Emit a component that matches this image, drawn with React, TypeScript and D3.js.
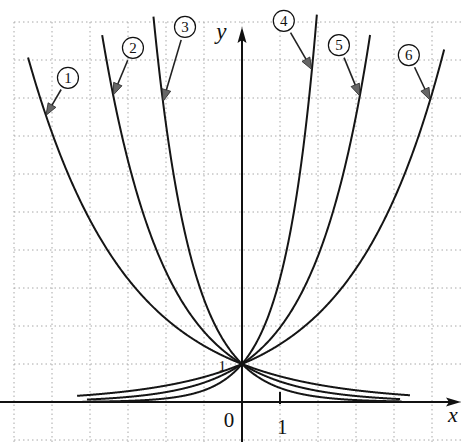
import * as d3 from 'd3';

// y = a^x curves, numbered 1..6 as in the figure
const curveNames = ['1', '2', '3', '4', '5', '6'];
const bases = [0.676, 0.54, 0.37, 3.25, 1.96, 1.52];
const xStarts = [-5.63, -3.68, -2.33, -4.2, -4.08, -4.34];
const xEnds = [4.42, 4.16, 4.2, 1.97, 3.37, 5.32];

// circled label centres (data units) and where each arrow touches its curve
const labelX = [-4.58, -2.87, -1.5, 1.1, 2.55, 4.39];
const labelY = [8.53, 9.32, 9.87, 10.03, 9.39, 9.13];
const tipX = [-5.16, -3.39, -2.08, 1.84, 3.1, 4.95];

const gridX = d3.range(-6, 6);
const gridY = d3.range(-1, 11);

const W = 462;
const H = 442;

const x = d3.scaleLinear().domain([-6, 5.5]).range([14, 451]);
const y = d3.scaleLinear().domain([-1, 10.5]).range([440, 3]);

const line = d3
  .line<number[]>()
  .x((d) => x(d[0]))
  .y((d) => y(d[1]))
  .curve(d3.curveMonotoneX);

export default function App() {
  const x0 = x(0);
  const y0 = y(0);
  const r = 10.5;

  return (
    <svg
      width={W}
      height={H}
      style={{ position: 'fixed', left: 0, top: 0, background: '#fff' }}
    >
      {/* graph paper */}
      <g stroke="#a8a8a8" strokeWidth={1} strokeDasharray="1.5,3">
        {gridY.map((v) => (
          <line key={'h' + v} x1={x(-6)} x2={W} y1={y(v)} y2={y(v)} />
        ))}
        {gridX.map((v) => (
          <line key={'v' + v} x1={x(v)} x2={x(v)} y1={y(10)} y2={H} />
        ))}
      </g>

      {/* axes */}
      <g stroke="#111" strokeWidth={2}>
        <line x1={0} x2={W - 8} y1={y0} y2={y0} />
        <line x1={x0} x2={x0} y1={H} y2={36} />
        <line x1={x(1)} x2={x(1)} y1={y0 - 10} y2={y0 + 2} />
      </g>
      <path
        d={`M${W - 1},${y0} L${W - 16},${y0 - 4.5} L${W - 13},${y0} L${W - 16},${y0 + 4.5} Z`}
        fill="#111"
      />
      <path
        d={`M${x0},${27} L${x0 - 4.5},${43} L${x0},${40} L${x0 + 4.5},${43} Z`}
        fill="#111"
      />

      {/* curves */}
      <g fill="none" stroke="#151515" strokeWidth={2}>
        {bases.map((a, i) => {
          const pts = d3
            .range(xStarts[i], xEnds[i], 0.02)
            .concat([xEnds[i]])
            .map((t) => [t, Math.pow(a, t)]);
          return <path key={i} d={line(pts) || ''} />;
        })}
      </g>

      {/* numbered labels with arrows */}
      {curveNames.map((name, i) => {
        const cx = x(labelX[i]);
        const cy = y(labelY[i]);
        const tx = x(tipX[i]);
        const ty = y(Math.pow(bases[i], tipX[i]));
        const dx = tx - cx;
        const dy = ty - cy;
        const len = Math.hypot(dx, dy);
        const ux = dx / len;
        const uy = dy / len;
        const sx = cx + ux * (r + 3);
        const sy = cy + uy * (r + 3);
        const hx = tx - ux * 12;
        const hy = ty - uy * 12;
        return (
          <g key={name}>
            <circle cx={cx} cy={cy} r={r} fill="#fff" stroke="#111" strokeWidth={1.2} />
            <text
              x={cx}
              y={cy + 5}
              textAnchor="middle"
              fontFamily="Liberation Serif"
              fontSize={15}
              fill="#111"
            >
              {name}
            </text>
            <line x1={sx} y1={sy} x2={hx} y2={hy} stroke="#222" strokeWidth={1.6} />
            <path
              d={`M${tx},${ty} L${hx - uy * 4.5},${hy + ux * 4.5} L${hx + uy * 4.5},${hy - ux * 4.5} Z`}
              fill="#666"
              stroke="#222"
              strokeWidth={0.8}
            />
          </g>
        );
      })}

      {/* text */}
      <text x={x(-0.68)} y={y(9.55)} fontFamily="Liberation Serif" fontStyle="italic" fontSize={23} fill="#111">
        y
      </text>
      <text x={W - 14} y={y0 + 20} fontFamily="Liberation Serif" fontStyle="italic" fontSize={22} fill="#111">
        x
      </text>
      <text
        x={x(-0.34)}
        y={y0 + 25}
        textAnchor="middle"
        fontFamily="Liberation Sans Narrow"
        fontSize={21}
        fill="#111"
      >
        0
      </text>
      <text
        x={x(1.06)}
        y={y0 + 32}
        textAnchor="middle"
        fontFamily="Liberation Sans Narrow"
        fontSize={21}
        fill="#111"
      >
        1
      </text>
      <text
        x={x(-0.52)}
        y={y(1) + 7}
        textAnchor="middle"
        fontFamily="Liberation Sans Narrow"
        fontSize={15}
        fill="#111"
      >
        1
      </text>
    </svg>
  );
}
